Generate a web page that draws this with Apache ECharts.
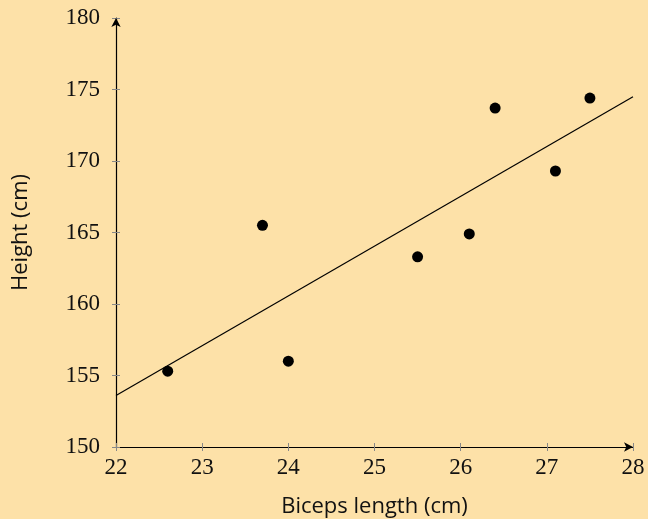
<!DOCTYPE html>
<html>
<head>
<meta charset="utf-8">
<script src="https://cdn.jsdelivr.net/npm/echarts@6/dist/echarts.min.js"></script>
<style>
html,body{margin:0;padding:0;background:#FDE1A8;}
#chart{width:648px;height:519px;}
</style>
</head>
<body>
<div id="chart"></div>
<script>
const bicepsLength = [22.6, 23.7, 24.0, 25.5, 26.1, 26.4, 27.1, 27.5];
const heights = [155.3, 165.5, 156.0, 163.3, 164.9, 173.7, 169.3, 174.4];
const fitX = [22, 28];
const fitY = [153.6, 174.5];
const xTitle = 'Biceps length (cm)';
const yTitle = 'Height (cm)';

const points = bicepsLength.map((x, i) => [x, heights[i]]);
const fitLine = fitX.map((x, i) => [x, fitY[i]]);

const tickFont = {fontFamily: 'Liberation Serif', fontSize: 23, color: '#111'};
const axisLine = {show: true, lineStyle: {color: '#000', width: 1.2}, symbol: ['none', 'arrow'], symbolSize: [7, 9]};
const tickGray = {lineStyle: {color: '#888', width: 1}, length: 4};
const titleFont = {fontFamily: 'Open Sans', fontSize: 22, color: '#111'};

const chart = echarts.init(document.getElementById('chart'));
chart.setOption({
  backgroundColor: '#FDE1A8',
  animation: false,
  grid: {left: 116, right: 15, top: 18, bottom: 72, containLabel: false, outerBoundsMode: 'none'},
  xAxis: [
    {type: 'value', min: 22, max: 28, interval: 1, position: 'bottom',
     axisLine: axisLine, axisTick: Object.assign({show: true, inside: false}, tickGray),
     axisLabel: Object.assign({margin: 9}, tickFont), splitLine: {show: false},
     name: xTitle, nameLocation: 'middle', nameGap: 49, nameTextStyle: titleFont},
    {type: 'value', min: 22, max: 28, interval: 1, position: 'bottom',
     axisLine: {show: false}, axisTick: Object.assign({show: true, inside: true}, tickGray),
     axisLabel: {show: false}, splitLine: {show: false}}
  ],
  yAxis: [
    {type: 'value', min: 150, max: 180, interval: 5, position: 'left',
     axisLine: axisLine, axisTick: Object.assign({show: true, inside: false}, tickGray),
     axisLabel: Object.assign({margin: 16}, tickFont), splitLine: {show: false},
     name: yTitle, nameLocation: 'middle', nameGap: 84, nameTextStyle: titleFont},
    {type: 'value', min: 150, max: 180, interval: 5, position: 'left',
     axisLine: {show: false}, axisTick: Object.assign({show: true, inside: true}, tickGray),
     axisLabel: {show: false}, splitLine: {show: false}}
  ],
  series: [
    {type: 'line', data: fitLine, showSymbol: false, symbol: 'none',
     lineStyle: {color: '#000', width: 1.2}, z: 2},
    {type: 'scatter', data: points, symbol: 'circle', symbolSize: 11,
     itemStyle: {color: '#000', opacity: 1}, z: 3}
  ]
});
</script>
</body>
</html>
